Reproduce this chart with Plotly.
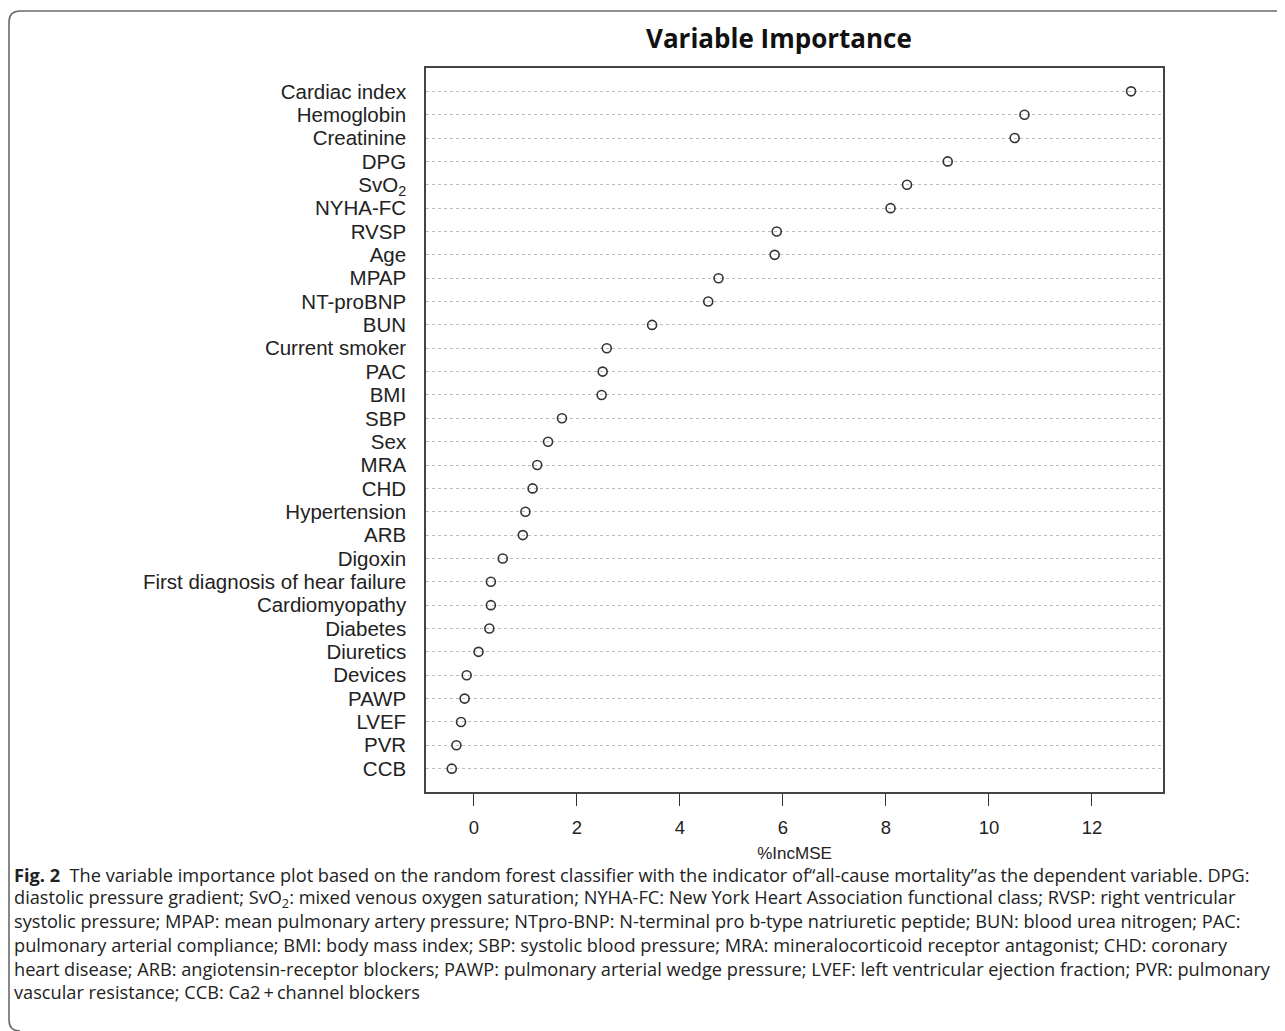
import plotly.graph_objects as go

# ---- data (top to bottom as drawn) ----
variables = ["Cardiac index", "Hemoglobin", "Creatinine", "DPG", "SvO<sub>2</sub>", "NYHA-FC",
             "RVSP", "Age", "MPAP", "NT-proBNP", "BUN", "Current smoker", "PAC", "BMI", "SBP",
             "Sex", "MRA", "CHD", "Hypertension", "ARB", "Digoxin",
             "First diagnosis of hear failure", "Cardiomyopathy", "Diabetes", "Diuretics",
             "Devices", "PAWP", "LVEF", "PVR", "CCB"]
inc_mse = [12.76, 10.69, 10.50, 9.20, 8.41, 8.09,
           5.88, 5.84, 4.75, 4.55, 3.46, 2.58, 2.50, 2.48, 1.71,
           1.44, 1.23, 1.14, 1.00, 0.95, 0.56,
           0.33, 0.33, 0.30, 0.09,
           -0.14, -0.18, -0.25, -0.34, -0.43]
x_ticks = [0, 2, 4, 6, 8, 10, 12]
title_text = "Variable Importance"
x_title = "%IncMSE"
caption_lines = [
    "<b>Fig. 2</b>  The variable importance plot based on the random forest classifier with the indicator of\u201call-cause mortality\u201das the dependent variable. DPG:",
    "diastolic pressure gradient; SvO<sub>2</sub>: mixed venous oxygen saturation; NYHA-FC: New York Heart Association functional class; RVSP: right ventricular",
    "systolic pressure; MPAP: mean pulmonary artery pressure; NTpro-BNP: N-terminal pro b-type natriuretic peptide; BUN: blood urea nitrogen; PAC:",
    "pulmonary arterial compliance; BMI: body mass index; SBP: systolic blood pressure; MRA: mineralocorticoid receptor antagonist; CHD: coronary",
    "heart disease; ARB: angiotensin-receptor blockers; PAWP: pulmonary arterial wedge pressure; LVEF: left ventricular ejection fraction; PVR: pulmonary",
    "vascular resistance; CCB: Ca2\u2009+\u2009channel blockers",
]

n = len(variables)
ypos = list(range(n, 0, -1))

OFF = 8  # default page body margin
W, H = 1285 - OFF, 1031 - OFF
L, R, T, B = 426, 1163, 68, 792   # plot area in page pixels
pw, ph = R - L, B - T


def px(x):
    return (x - L) / pw


def py(y):
    return (B - y) / ph


fig = go.Figure()
fig.add_trace(go.Scatter(
    x=inc_mse, y=ypos, mode="markers",
    marker=dict(symbol="circle-open", size=9, color="#333333", line=dict(width=1.6, color="#333333")),
    showlegend=False, hoverinfo="x+y"))

fig.update_layout(
    width=W, height=H,
    margin=dict(l=L - OFF, r=W - (R - OFF), t=T - OFF, b=H - (B - OFF)),
    paper_bgcolor="white", plot_bgcolor="white",
    font=dict(family="Liberation Sans, Arial, sans-serif", size=18, color="#222222"),
    showlegend=False,
)
fig.update_xaxes(
    range=[-0.93, 13.38], tickvals=x_ticks, ticks="outside", ticklen=12, tickwidth=1.3,
    tickcolor="#333333", showgrid=False, zeroline=False, showline=True, linecolor="#444444",
    linewidth=1.5, mirror=True, tickfont=dict(size=18.5), ticklabelstandoff=6,
    title=dict(text=x_title, font=dict(size=17), standoff=10),
)
fig.update_yaxes(
    range=[0, n + 1], tickvals=ypos, ticktext=variables, ticks="", showgrid=True,
    gridcolor="#bdbdbd", griddash="dot", gridwidth=1, zeroline=False, showline=True,
    linecolor="#444444", linewidth=1.5, mirror=True, tickfont=dict(size=20.5),
    ticklabelstandoff=14,
)

# title
fig.add_annotation(x=px(779), y=py(38), xref="paper", yref="paper", text="<b>" + title_text + "</b>",
                   showarrow=False, xanchor="center", yanchor="middle",
                   font=dict(family="Open Sans, sans-serif", size=26, color="#111111"))

# caption
cap_y = [875, 898, 921, 945, 969, 992]
for line, yy in zip(caption_lines, cap_y):
    fig.add_annotation(x=px(12), y=py(yy), xref="paper", yref="paper", text=line, showarrow=False,
                       xanchor="left", yanchor="middle", align="left",
                       font=dict(family="Open Sans, sans-serif", size=18.2, color="#222222"))

# outer rounded frame
path = (f"M {px(1295)},{py(11)} L {px(20)},{py(11)} Q {px(9)},{py(11)} {px(9)},{py(22)} "
        f"L {px(9)},{py(1020)} Q {px(9)},{py(1031)} {px(20)},{py(1031)}")
fig.add_shape(type="path", path=path, xref="paper", yref="paper",
              line=dict(color="#6a6a6a", width=1.6))

fig.write_html("out.html")
